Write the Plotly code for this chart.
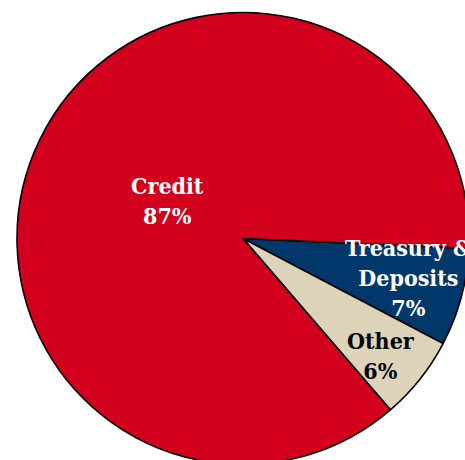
import plotly.graph_objects as go

# Portfolio composition
categories = ["Treasury &<br>Deposits", "Other", "Credit"]
shares = [7, 6, 87]

# styling
slice_colors = ["#00386B", "#DDD3B8", "#D2001C"]
text_colors = ["white", "black", "white"]
label_px = [(408, 277), (381, 355), (167.5, 201)]   # label centres, pixels from top-left

# canvas slightly larger than the view so the pie bleeds past the right/bottom edge
W, H = 470, 466
start_deg = 2.5                      # first slice starts just below 3 o'clock

R = 226
cx, cy_top = 243, 238.5
cy = H - cy_top                      # from the bottom

fig = go.Figure(
    go.Pie(
        labels=categories,
        values=shares,
        sort=False,
        direction="clockwise",
        rotation=90 + start_deg,
        marker=dict(colors=slice_colors, line=dict(color="black", width=1.6)),
        textinfo="none",
        hoverinfo="skip",
        showlegend=False,
        domain=dict(x=[(cx - R) / W, (cx + R) / W], y=[(cy - R) / H, (cy + R) / H]),
    )
)

annotations = []
for name, val, tc, (px, py) in zip(categories, shares, text_colors, label_px):
    annotations.append(
        dict(
            x=px / W, y=1 - py / H, xref="paper", yref="paper",
            text=f"<b>{name}<br>{val}%</b>",
            showarrow=False, align="center",
            xanchor="center", yanchor="middle",
            font=dict(family="DejaVu Serif Condensed, DejaVu Serif", size=23, color=tc),
        )
    )

fig.update_layout(
    width=W, height=H,
    margin=dict(l=0, r=0, t=0, b=0),
    paper_bgcolor="white",
    plot_bgcolor="white",
    annotations=annotations,
)

fig.write_html(
    "out.html",
    post_script="document.documentElement.style.overflow='hidden';"
                "document.body.style.overflow='hidden';",
)
